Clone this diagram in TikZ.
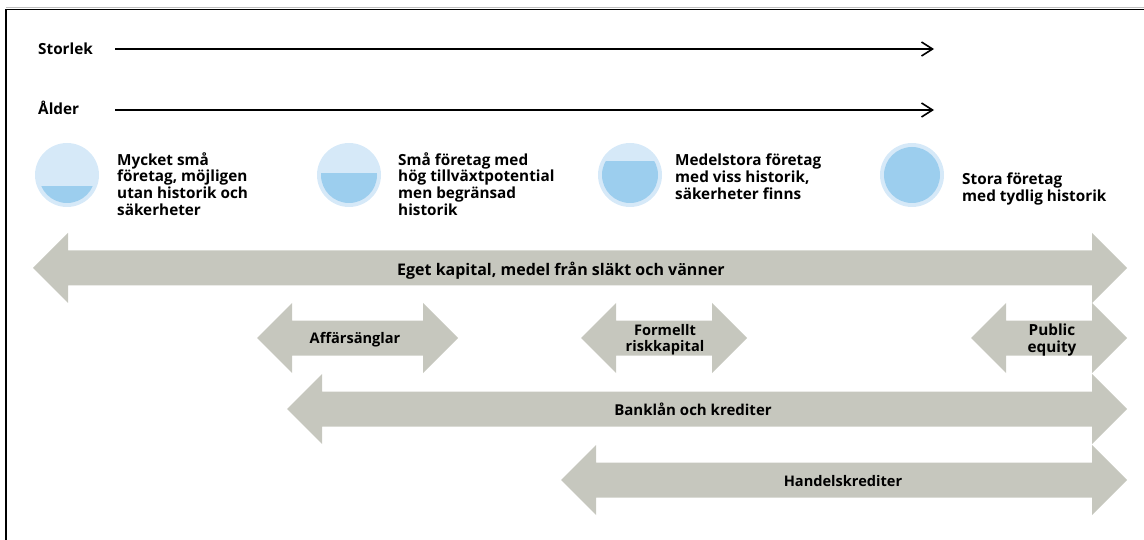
\documentclass[tikz,border=0pt]{standalone}
\usepackage{fontspec}
\setmainfont{Open Sans}
\usepackage{tikz}
\usetikzlibrary{arrows.meta,positioning}
\definecolor{bandgray}{HTML}{C6C7BE}
\definecolor{paleblue}{HTML}{D6E9F8}
\definecolor{fillblue}{HTML}{9CCEEE}
\tikzset{
  txt/.style={font=\bfseries\fontsize{15.3}{16.7}\selectfont, inner sep=0pt, align=left},
  band/.style={fill=bandgray},
  axisline/.style={line width=1.6pt, -{Straight Barb[length=11pt,width=14pt]}},
}
% double headed band from x #1 to x #2 at height #3
\newcommand{\dblarrow}[3]{%
  \fill[band] (#1,#3) -- ({#1+35},{#3-35}) -- ({#1+35},{#3-17.5}) -- ({#2-35},{#3-17.5})
    -- ({#2-35},{#3-35}) -- (#2,#3) -- ({#2-35},{#3+35}) -- ({#2-35},{#3+17.5})
    -- ({#1+35},{#3+17.5}) -- ({#1+35},{#3+35}) -- cycle;}
% circle at (#1,#2), blue from height #3 down
\newcommand{\levelcircle}[3]{%
  \fill[paleblue] (#1,#2) circle (32pt);
  \begin{scope}
    \clip (#1,#2) circle (28pt);
    \fill[fillblue] ({#1-30},#3) rectangle ({#1+30},{#2+30});
  \end{scope}}
\begin{document}
\begin{tikzpicture}[x=1pt,y=-1pt]
    \useasboundingbox (0,0) rectangle (1144,540);
    % frame
    \draw[gray!50, line width=1pt] (6,7.6) -- (1144,7.6);
    \draw[line width=1.3pt] (6,540) -- (6,9.3) -- (1144,9.3);

    % size and age
    \node[txt, anchor=base west] (storlek) at (38,55) {Storlek};
    \node[txt, anchor=base west] (alder) at (38,115) {Ålder};
    \coordinate (s0) at (115,49);
    \coordinate (s1) at (934,49);
    \coordinate (a0) at (115,110);
    \coordinate (a1) at (934,110);
    \draw[axisline] (s0) -- (s1);
    \draw[axisline] (a0) -- (a1);

    % company types
    \levelcircle{67}{175}{186}
    \levelcircle{349}{175}{173}
    \levelcircle{630}{175}{161}
    \levelcircle{912}{175}{145}
    \node[txt, anchor=north west] (mycket) at (117,152) {Mycket små\\företag, möjligen\\utan historik och\\säkerheter};
    \node[txt, anchor=north west] (sma) at (398,152) {Små företag med\\hög tillväxtpotential\\men begränsad\\historik};
    \node[txt, anchor=north west] (medel) at (675,154) {Medelstora företag\\med viss historik,\\säkerheter finns};
    \node[txt, anchor=north west] (stora) at (962,173) {Stora företag\\med tydlig historik};

    % financing
    \dblarrow{33}{1127}{268}
    \dblarrow{257}{458}{338}
    \dblarrow{581}{747}{338}
    \dblarrow{971}{1127}{338}
    \dblarrow{287}{1127}{409}
    \dblarrow{561}{1127}{480}
    \node[txt, anchor=base, font=\bfseries\fontsize{16}{18}\selectfont] (eget) at (561,276) {Eget kapital, medel från släkt och vänner};
    \node[txt, anchor=base, font=\bfseries\fontsize{14.6}{16.4}\selectfont] (angel) at (355,344) {Affärsänglar};
    \node[txt, align=center, font=\bfseries\fontsize{14.6}{16.4}\selectfont] (risk) at (665,340) {Formellt\\riskkapital};
    \node[txt, align=center] (public) at (1052,340) {Public\\equity};
    \node[txt, anchor=base, font=\bfseries\fontsize{15}{17}\selectfont] (bank) at (693,415) {Banklån och krediter};
    \node[txt, anchor=base, font=\bfseries\fontsize{14.6}{16.4}\selectfont] (handel) at (843,486) {Handelskrediter};
\end{tikzpicture}
\end{document}
